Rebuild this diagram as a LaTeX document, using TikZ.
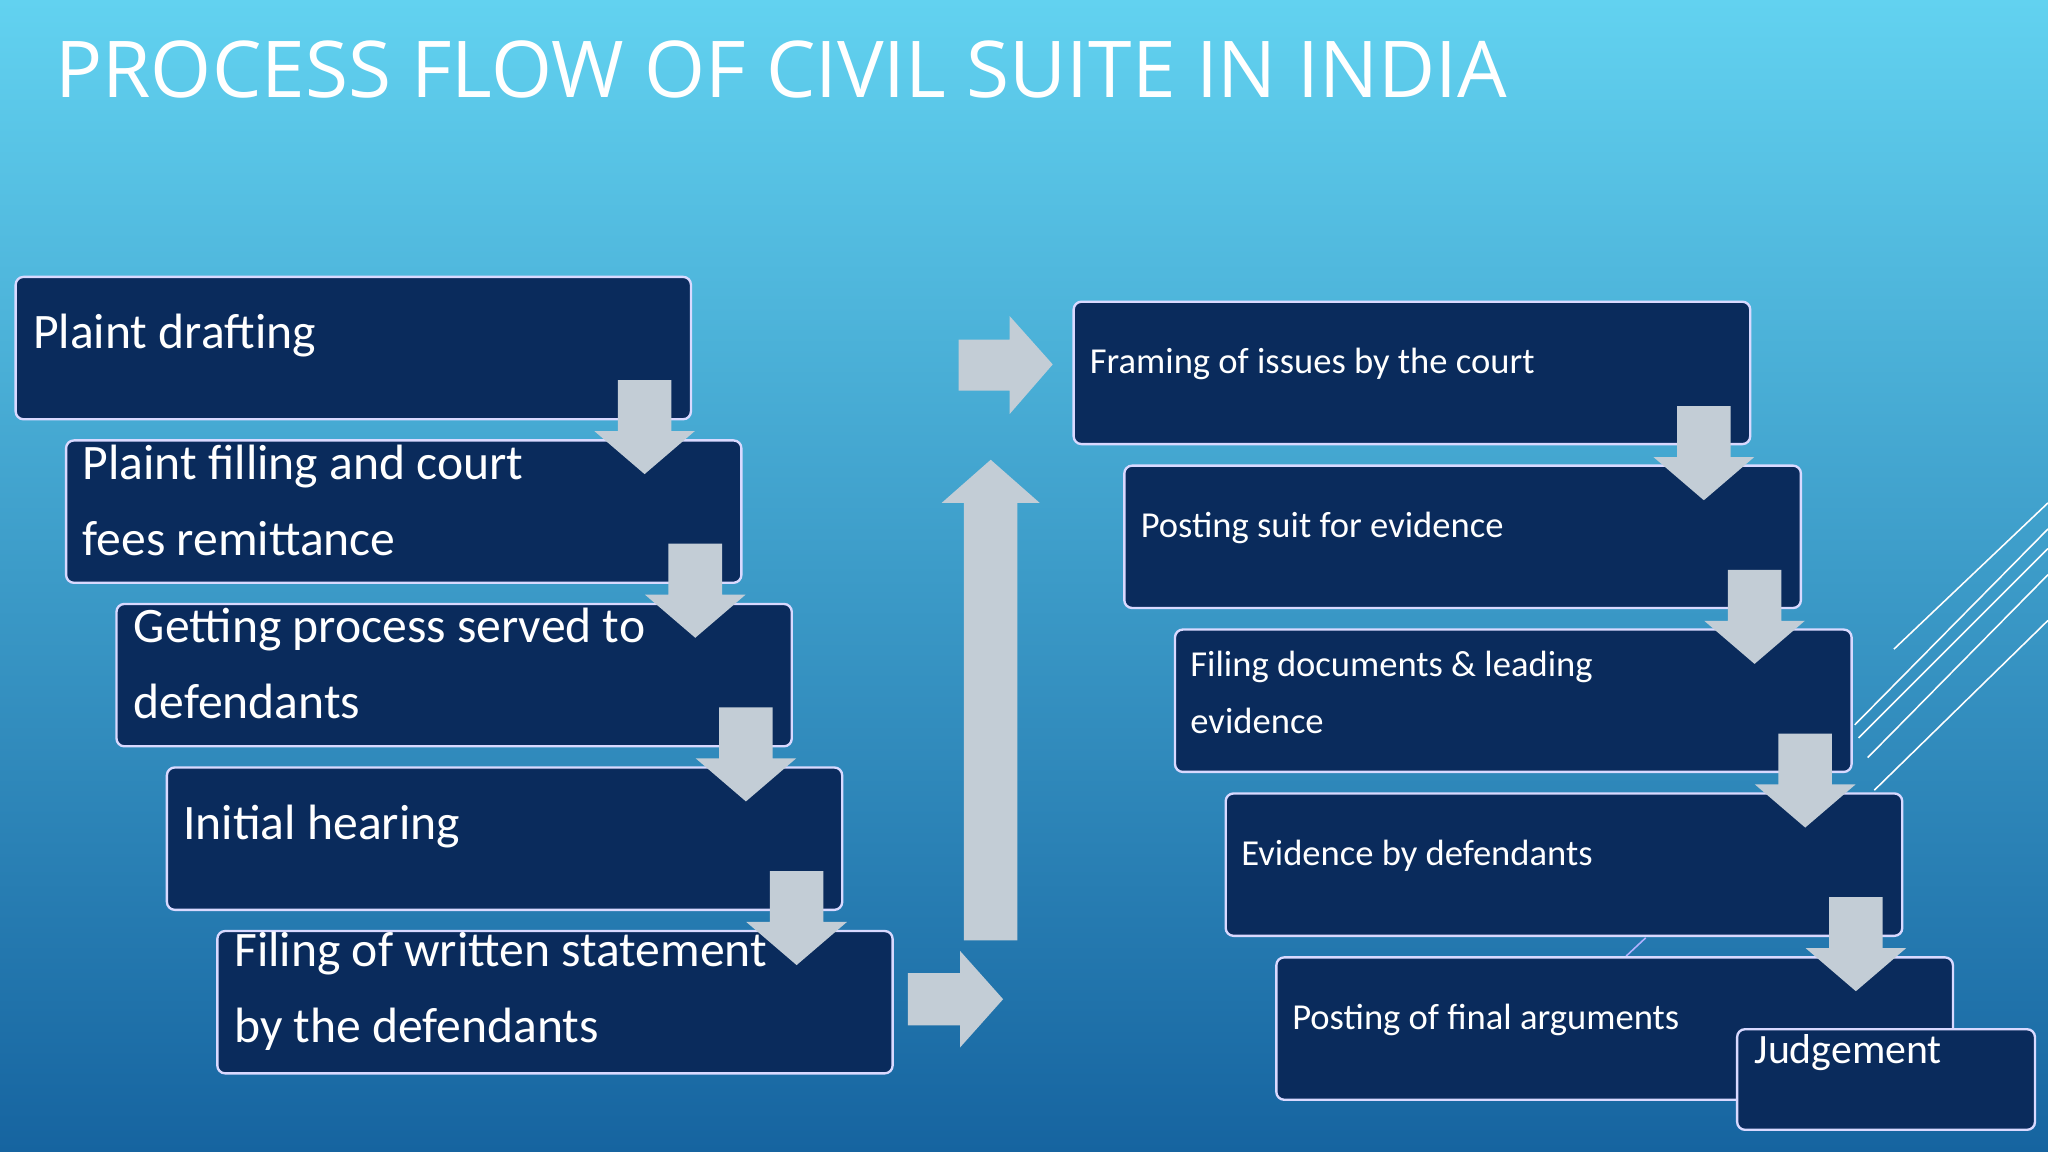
\documentclass[tikz,border=0pt]{standalone}
\usepackage{fontspec}
\setmainfont{Carlito}
\newfontfamily\titlefont{Open Sans}
\begin{document}
\begin{tikzpicture}[x=0.5pt,y=-0.5pt]
\definecolor{boxc}{HTML}{0A2B5C}
\definecolor{arr}{HTML}{C3CDD6}
\tikzset{
 stepbox/.style={draw=white!85!blue,line width=0.9pt,fill=boxc,rounded corners=3pt},
 bigt/.style={text=white,anchor=west,font=\fontsize{19}{23}\selectfont,inner sep=0},
 smallt/.style={text=white,anchor=west,font=\fontsize{14}{17}\selectfont,inner sep=0},
 blk/.style={fill=arr,draw=none}
}
\useasboundingbox (0,0) rectangle (1568,882);
\shade[top color=cyan!45!blue!70!white, bottom color=blue!60!cyan!80!black] (0,0) rectangle (1568,882);
\shade[top color={rgb,255:red,98;green,210;blue,240}, bottom color={rgb,255:red,22;green,100;blue,160}] (0,0) rectangle (1568,882);
\node[text=white,anchor=base west,inner sep=0,font=\titlefont\fontsize{30}{34}\selectfont] (title) at (42,75) {PROCESS FLOW OF CIVIL SUITE IN INDIA};
% decorative lines
\draw[white,line width=0.6pt] (1450,497) -- (1568,385);
\draw[white,line width=0.6pt] (1420,555) -- (1568,405);
\draw[white,line width=0.6pt] (1423,565) -- (1568,420);
\draw[white,line width=0.6pt] (1430,580) -- (1568,440);
\draw[white,line width=0.6pt] (1435,605) -- (1568,475);
\draw[white!70!blue,line width=0.6pt] (1245,732) -- (1260,718);
% left boxes
\foreach \i in {0,...,4}{
 \draw[stepbox] ({12+38.6*\i},{212+125.2*\i}) rectangle ++(517,109);
}
\node[bigt] (l1) at (25,257) {Plaint drafting};
\node[bigt,align=left] (l2) at (63,383) {Plaint filling and court\\[6pt]fees remittance};
\node[bigt,align=left] (l3) at (102,508) {Getting process served to\\[6pt]defendants};
\node[bigt] (l4) at (140,633) {Initial hearing};
\node[bigt,align=left] (l5) at (179,759) {Filing of written statement\\[6pt]by the defendants};
% right boxes
\foreach \i in {0,...,4}{
 \draw[stepbox] ({822+38.8*\i},{231+125.5*\i}) rectangle ++(518,109);
}
\node[smallt] (r1) at (834,279) {Framing of issues by the court};
\node[smallt] (r2) at (873,404) {Posting suit for evidence};
\node[smallt,align=left] (r3) at (911,530) {Filing documents \& leading\\[5pt]evidence};
\node[smallt] (r4) at (950,655) {Evidence by defendants};
\node[smallt] (r5) at (989,781) {Posting of final arguments};
\draw[stepbox] (1330,788) rectangle (1558,865);
\node[bigt,font=\fontsize{16}{19}\selectfont] (jd) at (1343,806) {Judgement};
% down arrows
\foreach \i in {0,...,3}{
 \begin{scope}[shift={({38.8*\i},{125.3*\i})}]
 \fill[blk] (473,291) -- (514,291) -- (514,330) -- (532,330) -- (493.5,363) -- (455,330) -- (473,330) -- cycle;
 \fill[blk] (1284,311) -- (1325,311) -- (1325,350) -- (1343,350) -- (1304.5,383) -- (1266,350) -- (1284,350) -- cycle;
 \end{scope}
}
% right arrows
\fill[blk] (695,745) -- (735,745) -- (735,728) -- (768,765) -- (735,802) -- (735,785) -- (695,785) -- cycle;
\fill[blk] (734,260) -- (773,260) -- (773,242) -- (806,279) -- (773,317) -- (773,299) -- (734,299) -- cycle;
% up arrow
\fill[blk] (738,720) -- (738,385) -- (721,385) -- (758.5,352) -- (796,385) -- (779,385) -- (779,720) -- cycle;
\end{tikzpicture}
\end{document}
